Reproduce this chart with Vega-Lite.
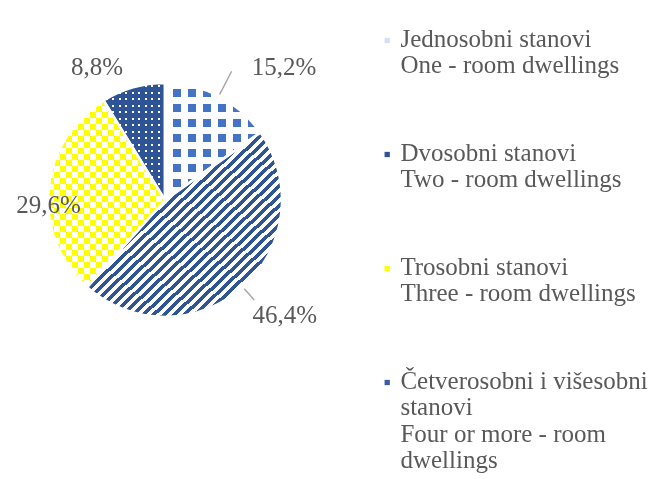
{
"$schema":"https://vega.github.io/schema/vega-lite/v6.json",
"width":330,"height":400,"padding":0,"autosize":{"type":"pad"},"background":"white",
"config":{"view":{"stroke":null}},
"data":{"values":[
{"k":"one","cat":"Jednosobni stanovi|One - room dwellings","pct":15.2,"ord":1,"label":"15,2%"},
{"k":"two","cat":"Dvosobni stanovi|Two - room dwellings","pct":46.4,"ord":2,"label":"46,4%"},
{"k":"three","cat":"Trosobni stanovi|Three - room dwellings","pct":29.6,"ord":3,"label":"29,6%"},
{"k":"four","cat":"Četverosobni i višesobni|stanovi|Four or more - room|dwellings","pct":8.8,"ord":4,"label":"8,8%"}
]},
"encoding":{"theta":{"field":"pct","type":"quantitative","stack":true},"order":{"field":"ord","type":"quantitative"}},
"layer":[
{"mark":{"type":"arc","radius":117,"strokeWidth":0},
 "encoding":{"fill":{"field":"cat","type":"nominal",
  "scale":{"domain":["Jednosobni stanovi|One - room dwellings","Dvosobni stanovi|Two - room dwellings","Trosobni stanovi|Three - room dwellings","Četverosobni i višesobni|stanovi|Four or more - room|dwellings"],"range":["#D5DFF3","#2F5597","#FFFF00","#3A5DA5"]},
  "legend":{"title":null,"orient":"none","legendX":374.7,"legendY":28,"symbolType":"square","symbolSize":28,"symbolStrokeWidth":0,"labelFont":"Liberation Serif","labelFontSize":25,"labelColor":"#595959","labelLimit":400,"labelOffset":0.7,"labelBaseline":"alphabetic","rowPadding":62,"padding":0,"labelExpr":"split(datum.label, '|')","encode":{"labels":{"update":{"lineHeight":{"value":26.5},"dy":{"value":6}}}}},
  "condition":[
   {"test":"datum.k==='one'","value":"#4472C4"},
   {"test":"datum.k==='two'","value":{"gradient":"linear","x1":0,"y1":0,"x2":1,"y2":1,"stops":[
{"offset":0,"color":"#2F5597"},{"offset":0.0132,"color":"#2F5597"},{"offset":0.0132,"color":"#FFFFFF"},{"offset":0.0263,"color":"#FFFFFF"},
{"offset":0.0263,"color":"#2F5597"},{"offset":0.0395,"color":"#2F5597"},{"offset":0.0395,"color":"#FFFFFF"},{"offset":0.0526,"color":"#FFFFFF"},
{"offset":0.0526,"color":"#2F5597"},{"offset":0.0658,"color":"#2F5597"},{"offset":0.0658,"color":"#FFFFFF"},{"offset":0.0789,"color":"#FFFFFF"},
{"offset":0.0789,"color":"#2F5597"},{"offset":0.0921,"color":"#2F5597"},{"offset":0.0921,"color":"#FFFFFF"},{"offset":0.1053,"color":"#FFFFFF"},
{"offset":0.1053,"color":"#2F5597"},{"offset":0.1184,"color":"#2F5597"},{"offset":0.1184,"color":"#FFFFFF"},{"offset":0.1316,"color":"#FFFFFF"},
{"offset":0.1316,"color":"#2F5597"},{"offset":0.1447,"color":"#2F5597"},{"offset":0.1447,"color":"#FFFFFF"},{"offset":0.1579,"color":"#FFFFFF"},
{"offset":0.1579,"color":"#2F5597"},{"offset":0.1711,"color":"#2F5597"},{"offset":0.1711,"color":"#FFFFFF"},{"offset":0.1842,"color":"#FFFFFF"},
{"offset":0.1842,"color":"#2F5597"},{"offset":0.1974,"color":"#2F5597"},{"offset":0.1974,"color":"#FFFFFF"},{"offset":0.2105,"color":"#FFFFFF"},
{"offset":0.2105,"color":"#2F5597"},{"offset":0.2237,"color":"#2F5597"},{"offset":0.2237,"color":"#FFFFFF"},{"offset":0.2368,"color":"#FFFFFF"},
{"offset":0.2368,"color":"#2F5597"},{"offset":0.25,"color":"#2F5597"},{"offset":0.25,"color":"#FFFFFF"},{"offset":0.2632,"color":"#FFFFFF"},
{"offset":0.2632,"color":"#2F5597"},{"offset":0.2763,"color":"#2F5597"},{"offset":0.2763,"color":"#FFFFFF"},{"offset":0.2895,"color":"#FFFFFF"},
{"offset":0.2895,"color":"#2F5597"},{"offset":0.3026,"color":"#2F5597"},{"offset":0.3026,"color":"#FFFFFF"},{"offset":0.3158,"color":"#FFFFFF"},
{"offset":0.3158,"color":"#2F5597"},{"offset":0.3289,"color":"#2F5597"},{"offset":0.3289,"color":"#FFFFFF"},{"offset":0.3421,"color":"#FFFFFF"},
{"offset":0.3421,"color":"#2F5597"},{"offset":0.3553,"color":"#2F5597"},{"offset":0.3553,"color":"#FFFFFF"},{"offset":0.3684,"color":"#FFFFFF"},
{"offset":0.3684,"color":"#2F5597"},{"offset":0.3816,"color":"#2F5597"},{"offset":0.3816,"color":"#FFFFFF"},{"offset":0.3947,"color":"#FFFFFF"},
{"offset":0.3947,"color":"#2F5597"},{"offset":0.4079,"color":"#2F5597"},{"offset":0.4079,"color":"#FFFFFF"},{"offset":0.4211,"color":"#FFFFFF"},
{"offset":0.4211,"color":"#2F5597"},{"offset":0.4342,"color":"#2F5597"},{"offset":0.4342,"color":"#FFFFFF"},{"offset":0.4474,"color":"#FFFFFF"},
{"offset":0.4474,"color":"#2F5597"},{"offset":0.4605,"color":"#2F5597"},{"offset":0.4605,"color":"#FFFFFF"},{"offset":0.4737,"color":"#FFFFFF"},
{"offset":0.4737,"color":"#2F5597"},{"offset":0.4868,"color":"#2F5597"},{"offset":0.4868,"color":"#FFFFFF"},{"offset":0.5,"color":"#FFFFFF"},
{"offset":0.5,"color":"#2F5597"},{"offset":0.5132,"color":"#2F5597"},{"offset":0.5132,"color":"#FFFFFF"},{"offset":0.5263,"color":"#FFFFFF"},
{"offset":0.5263,"color":"#2F5597"},{"offset":0.5395,"color":"#2F5597"},{"offset":0.5395,"color":"#FFFFFF"},{"offset":0.5526,"color":"#FFFFFF"},
{"offset":0.5526,"color":"#2F5597"},{"offset":0.5658,"color":"#2F5597"},{"offset":0.5658,"color":"#FFFFFF"},{"offset":0.5789,"color":"#FFFFFF"},
{"offset":0.5789,"color":"#2F5597"},{"offset":0.5921,"color":"#2F5597"},{"offset":0.5921,"color":"#FFFFFF"},{"offset":0.6053,"color":"#FFFFFF"},
{"offset":0.6053,"color":"#2F5597"},{"offset":0.6184,"color":"#2F5597"},{"offset":0.6184,"color":"#FFFFFF"},{"offset":0.6316,"color":"#FFFFFF"},
{"offset":0.6316,"color":"#2F5597"},{"offset":0.6447,"color":"#2F5597"},{"offset":0.6447,"color":"#FFFFFF"},{"offset":0.6579,"color":"#FFFFFF"},
{"offset":0.6579,"color":"#2F5597"},{"offset":0.6711,"color":"#2F5597"},{"offset":0.6711,"color":"#FFFFFF"},{"offset":0.6842,"color":"#FFFFFF"},
{"offset":0.6842,"color":"#2F5597"},{"offset":0.6974,"color":"#2F5597"},{"offset":0.6974,"color":"#FFFFFF"},{"offset":0.7105,"color":"#FFFFFF"},
{"offset":0.7105,"color":"#2F5597"},{"offset":0.7237,"color":"#2F5597"},{"offset":0.7237,"color":"#FFFFFF"},{"offset":0.7368,"color":"#FFFFFF"},
{"offset":0.7368,"color":"#2F5597"},{"offset":0.75,"color":"#2F5597"},{"offset":0.75,"color":"#FFFFFF"},{"offset":0.7632,"color":"#FFFFFF"},
{"offset":0.7632,"color":"#2F5597"},{"offset":0.7763,"color":"#2F5597"},{"offset":0.7763,"color":"#FFFFFF"},{"offset":0.7895,"color":"#FFFFFF"},
{"offset":0.7895,"color":"#2F5597"},{"offset":0.8026,"color":"#2F5597"},{"offset":0.8026,"color":"#FFFFFF"},{"offset":0.8158,"color":"#FFFFFF"},
{"offset":0.8158,"color":"#2F5597"},{"offset":0.8289,"color":"#2F5597"},{"offset":0.8289,"color":"#FFFFFF"},{"offset":0.8421,"color":"#FFFFFF"},
{"offset":0.8421,"color":"#2F5597"},{"offset":0.8553,"color":"#2F5597"},{"offset":0.8553,"color":"#FFFFFF"},{"offset":0.8684,"color":"#FFFFFF"},
{"offset":0.8684,"color":"#2F5597"},{"offset":0.8816,"color":"#2F5597"},{"offset":0.8816,"color":"#FFFFFF"},{"offset":0.8947,"color":"#FFFFFF"},
{"offset":0.8947,"color":"#2F5597"},{"offset":0.9079,"color":"#2F5597"},{"offset":0.9079,"color":"#FFFFFF"},{"offset":0.9211,"color":"#FFFFFF"},
{"offset":0.9211,"color":"#2F5597"},{"offset":0.9342,"color":"#2F5597"},{"offset":0.9342,"color":"#FFFFFF"},{"offset":0.9474,"color":"#FFFFFF"},
{"offset":0.9474,"color":"#2F5597"},{"offset":0.9605,"color":"#2F5597"},{"offset":0.9605,"color":"#FFFFFF"},{"offset":0.9737,"color":"#FFFFFF"},
{"offset":0.9737,"color":"#2F5597"},{"offset":0.9868,"color":"#2F5597"},{"offset":0.9868,"color":"#FFFFFF"},{"offset":1,"color":"#FFFFFF"}
   ]}},
   {"test":"datum.k==='three'","value":{"gradient":"linear","x1":0,"y1":0,"x2":0,"y2":1,"stops":[
{"offset":0,"color":"#FFFF00"},{"offset":0.0321,"color":"#FFFF00"},{"offset":0.0321,"color":"#FFFFFF"},{"offset":0.0642,"color":"#FFFFFF"},
{"offset":0.0642,"color":"#FFFF00"},{"offset":0.0963,"color":"#FFFF00"},{"offset":0.0963,"color":"#FFFFFF"},{"offset":0.1283,"color":"#FFFFFF"},
{"offset":0.1283,"color":"#FFFF00"},{"offset":0.1604,"color":"#FFFF00"},{"offset":0.1604,"color":"#FFFFFF"},{"offset":0.1925,"color":"#FFFFFF"},
{"offset":0.1925,"color":"#FFFF00"},{"offset":0.2246,"color":"#FFFF00"},{"offset":0.2246,"color":"#FFFFFF"},{"offset":0.2567,"color":"#FFFFFF"},
{"offset":0.2567,"color":"#FFFF00"},{"offset":0.2888,"color":"#FFFF00"},{"offset":0.2888,"color":"#FFFFFF"},{"offset":0.3209,"color":"#FFFFFF"},
{"offset":0.3209,"color":"#FFFF00"},{"offset":0.3529,"color":"#FFFF00"},{"offset":0.3529,"color":"#FFFFFF"},{"offset":0.385,"color":"#FFFFFF"},
{"offset":0.385,"color":"#FFFF00"},{"offset":0.4171,"color":"#FFFF00"},{"offset":0.4171,"color":"#FFFFFF"},{"offset":0.4492,"color":"#FFFFFF"},
{"offset":0.4492,"color":"#FFFF00"},{"offset":0.4813,"color":"#FFFF00"},{"offset":0.4813,"color":"#FFFFFF"},{"offset":0.5134,"color":"#FFFFFF"},
{"offset":0.5134,"color":"#FFFF00"},{"offset":0.5455,"color":"#FFFF00"},{"offset":0.5455,"color":"#FFFFFF"},{"offset":0.5775,"color":"#FFFFFF"},
{"offset":0.5775,"color":"#FFFF00"},{"offset":0.6096,"color":"#FFFF00"},{"offset":0.6096,"color":"#FFFFFF"},{"offset":0.6417,"color":"#FFFFFF"},
{"offset":0.6417,"color":"#FFFF00"},{"offset":0.6738,"color":"#FFFF00"},{"offset":0.6738,"color":"#FFFFFF"},{"offset":0.7059,"color":"#FFFFFF"},
{"offset":0.7059,"color":"#FFFF00"},{"offset":0.738,"color":"#FFFF00"},{"offset":0.738,"color":"#FFFFFF"},{"offset":0.7701,"color":"#FFFFFF"},
{"offset":0.7701,"color":"#FFFF00"},{"offset":0.8021,"color":"#FFFF00"},{"offset":0.8021,"color":"#FFFFFF"},{"offset":0.8342,"color":"#FFFFFF"},
{"offset":0.8342,"color":"#FFFF00"},{"offset":0.8663,"color":"#FFFF00"},{"offset":0.8663,"color":"#FFFFFF"},{"offset":0.8984,"color":"#FFFFFF"},
{"offset":0.8984,"color":"#FFFF00"},{"offset":0.9305,"color":"#FFFF00"},{"offset":0.9305,"color":"#FFFFFF"},{"offset":0.9626,"color":"#FFFFFF"},
{"offset":0.9626,"color":"#FFFF00"},{"offset":0.9947,"color":"#FFFF00"},{"offset":0.9947,"color":"#FFFFFF"},{"offset":1,"color":"#FFFFFF"}
   ]}},
   {"test":"datum.k==='four'","value":{"gradient":"linear","x1":0,"y1":0,"x2":0,"y2":1,"stops":[
{"offset":0,"color":"#2F5496"},
{"offset":0.0193,"color":"#2F5496"},{"offset":0.0193,"color":"#FFFFFF"},{"offset":0.0364,"color":"#FFFFFF"},{"offset":0.0364,"color":"#2F5496"},
{"offset":0.0749,"color":"#2F5496"},{"offset":0.0749,"color":"#FFFFFF"},{"offset":0.092,"color":"#FFFFFF"},{"offset":0.092,"color":"#2F5496"},
{"offset":0.1304,"color":"#2F5496"},{"offset":0.1304,"color":"#FFFFFF"},{"offset":0.1475,"color":"#FFFFFF"},{"offset":0.1475,"color":"#2F5496"},
{"offset":0.186,"color":"#2F5496"},{"offset":0.186,"color":"#FFFFFF"},{"offset":0.2031,"color":"#FFFFFF"},{"offset":0.2031,"color":"#2F5496"},
{"offset":0.2415,"color":"#2F5496"},{"offset":0.2415,"color":"#FFFFFF"},{"offset":0.2586,"color":"#FFFFFF"},{"offset":0.2586,"color":"#2F5496"},
{"offset":0.2971,"color":"#2F5496"},{"offset":0.2971,"color":"#FFFFFF"},{"offset":0.3142,"color":"#FFFFFF"},{"offset":0.3142,"color":"#2F5496"},
{"offset":0.3526,"color":"#2F5496"},{"offset":0.3526,"color":"#FFFFFF"},{"offset":0.3697,"color":"#FFFFFF"},{"offset":0.3697,"color":"#2F5496"},
{"offset":0.4082,"color":"#2F5496"},{"offset":0.4082,"color":"#FFFFFF"},{"offset":0.4253,"color":"#FFFFFF"},{"offset":0.4253,"color":"#2F5496"},
{"offset":0.4637,"color":"#2F5496"},{"offset":0.4637,"color":"#FFFFFF"},{"offset":0.4808,"color":"#FFFFFF"},{"offset":0.4808,"color":"#2F5496"},
{"offset":0.5193,"color":"#2F5496"},{"offset":0.5193,"color":"#FFFFFF"},{"offset":0.5364,"color":"#FFFFFF"},{"offset":0.5364,"color":"#2F5496"},
{"offset":0.5749,"color":"#2F5496"},{"offset":0.5749,"color":"#FFFFFF"},{"offset":0.592,"color":"#FFFFFF"},{"offset":0.592,"color":"#2F5496"},
{"offset":0.6304,"color":"#2F5496"},{"offset":0.6304,"color":"#FFFFFF"},{"offset":0.6475,"color":"#FFFFFF"},{"offset":0.6475,"color":"#2F5496"},
{"offset":0.686,"color":"#2F5496"},{"offset":0.686,"color":"#FFFFFF"},{"offset":0.7031,"color":"#FFFFFF"},{"offset":0.7031,"color":"#2F5496"},
{"offset":0.7415,"color":"#2F5496"},{"offset":0.7415,"color":"#FFFFFF"},{"offset":0.7586,"color":"#FFFFFF"},{"offset":0.7586,"color":"#2F5496"},
{"offset":0.7971,"color":"#2F5496"},{"offset":0.7971,"color":"#FFFFFF"},{"offset":0.8142,"color":"#FFFFFF"},{"offset":0.8142,"color":"#2F5496"},
{"offset":0.8526,"color":"#2F5496"},{"offset":0.8526,"color":"#FFFFFF"},{"offset":0.8697,"color":"#FFFFFF"},{"offset":0.8697,"color":"#2F5496"},
{"offset":0.9082,"color":"#2F5496"},{"offset":0.9082,"color":"#FFFFFF"},{"offset":0.9253,"color":"#FFFFFF"},{"offset":0.9253,"color":"#2F5496"},
{"offset":0.9637,"color":"#2F5496"},{"offset":0.9637,"color":"#FFFFFF"},{"offset":0.9808,"color":"#FFFFFF"},{"offset":0.9808,"color":"#2F5496"},
{"offset":1,"color":"#2F5496"}
   ]}}
  ]}}},
{"mark":{"type":"arc","radius":117,"strokeWidth":0,"blend":"difference"},
 "encoding":{"fill":{"condition":{"test":"datum.k==='three'","value":{"gradient":"linear","x1":0,"y1":0,"x2":1,"y2":0,"stops":[
{"offset":0,"color":"#0000FF"},{"offset":0.0513,"color":"#0000FF"},{"offset":0.0513,"color":"rgba(0,0,255,0)"},{"offset":0.1026,"color":"rgba(0,0,255,0)"},
{"offset":0.1026,"color":"#0000FF"},{"offset":0.1538,"color":"#0000FF"},{"offset":0.1538,"color":"rgba(0,0,255,0)"},{"offset":0.2051,"color":"rgba(0,0,255,0)"},
{"offset":0.2051,"color":"#0000FF"},{"offset":0.2564,"color":"#0000FF"},{"offset":0.2564,"color":"rgba(0,0,255,0)"},{"offset":0.3077,"color":"rgba(0,0,255,0)"},
{"offset":0.3077,"color":"#0000FF"},{"offset":0.359,"color":"#0000FF"},{"offset":0.359,"color":"rgba(0,0,255,0)"},{"offset":0.4103,"color":"rgba(0,0,255,0)"},
{"offset":0.4103,"color":"#0000FF"},{"offset":0.4615,"color":"#0000FF"},{"offset":0.4615,"color":"rgba(0,0,255,0)"},{"offset":0.5128,"color":"rgba(0,0,255,0)"},
{"offset":0.5128,"color":"#0000FF"},{"offset":0.5641,"color":"#0000FF"},{"offset":0.5641,"color":"rgba(0,0,255,0)"},{"offset":0.6154,"color":"rgba(0,0,255,0)"},
{"offset":0.6154,"color":"#0000FF"},{"offset":0.6667,"color":"#0000FF"},{"offset":0.6667,"color":"rgba(0,0,255,0)"},{"offset":0.7179,"color":"rgba(0,0,255,0)"},
{"offset":0.7179,"color":"#0000FF"},{"offset":0.7692,"color":"#0000FF"},{"offset":0.7692,"color":"rgba(0,0,255,0)"},{"offset":0.8205,"color":"rgba(0,0,255,0)"},
{"offset":0.8205,"color":"#0000FF"},{"offset":0.8718,"color":"#0000FF"},{"offset":0.8718,"color":"rgba(0,0,255,0)"},{"offset":0.9231,"color":"rgba(0,0,255,0)"},
{"offset":0.9231,"color":"#0000FF"},{"offset":0.9744,"color":"#0000FF"},{"offset":0.9744,"color":"rgba(0,0,255,0)"},{"offset":1,"color":"rgba(0,0,255,0)"}
 ]}},"value":"transparent"}}},
{"mark":{"type":"arc","radius":117,"strokeWidth":0},
 "encoding":{"fill":{"condition":[
  {"test":"datum.k==='one'","value":{"gradient":"linear","x1":0,"y1":0,"x2":0,"y2":1,"stops":[
{"offset":0,"color":"#FFFFFF"},{"offset":0.0513,"color":"#FFFFFF"},{"offset":0.0513,"color":"rgba(255,255,255,0)"},{"offset":0.1197,"color":"rgba(255,255,255,0)"},
{"offset":0.1197,"color":"#FFFFFF"},{"offset":0.1795,"color":"#FFFFFF"},{"offset":0.1795,"color":"rgba(255,255,255,0)"},{"offset":0.2479,"color":"rgba(255,255,255,0)"},
{"offset":0.2479,"color":"#FFFFFF"},{"offset":0.3077,"color":"#FFFFFF"},{"offset":0.3077,"color":"rgba(255,255,255,0)"},{"offset":0.3761,"color":"rgba(255,255,255,0)"},
{"offset":0.3761,"color":"#FFFFFF"},{"offset":0.4359,"color":"#FFFFFF"},{"offset":0.4359,"color":"rgba(255,255,255,0)"},{"offset":0.5043,"color":"rgba(255,255,255,0)"},
{"offset":0.5043,"color":"#FFFFFF"},{"offset":0.5641,"color":"#FFFFFF"},{"offset":0.5641,"color":"rgba(255,255,255,0)"},{"offset":0.6325,"color":"rgba(255,255,255,0)"},
{"offset":0.6325,"color":"#FFFFFF"},{"offset":0.6923,"color":"#FFFFFF"},{"offset":0.6923,"color":"rgba(255,255,255,0)"},{"offset":0.7607,"color":"rgba(255,255,255,0)"},
{"offset":0.7607,"color":"#FFFFFF"},{"offset":0.8205,"color":"#FFFFFF"},{"offset":0.8205,"color":"rgba(255,255,255,0)"},{"offset":0.8889,"color":"rgba(255,255,255,0)"},
{"offset":0.8889,"color":"#FFFFFF"},{"offset":0.9487,"color":"#FFFFFF"},{"offset":0.9487,"color":"rgba(255,255,255,0)"},{"offset":1,"color":"rgba(255,255,255,0)"}
  ]}},
  {"test":"datum.k==='four'","value":{"gradient":"linear","x1":0,"y1":0,"x2":1,"y2":0,"stops":[
{"offset":0,"color":"#2F5496"},
{"offset":0.0366,"color":"#2F5496"},{"offset":0.0366,"color":"rgba(47,84,150,0)"},{"offset":0.0691,"color":"rgba(47,84,150,0)"},{"offset":0.0691,"color":"#2F5496"},
{"offset":0.1423,"color":"#2F5496"},{"offset":0.1423,"color":"rgba(47,84,150,0)"},{"offset":0.1748,"color":"rgba(47,84,150,0)"},{"offset":0.1748,"color":"#2F5496"},
{"offset":0.248,"color":"#2F5496"},{"offset":0.248,"color":"rgba(47,84,150,0)"},{"offset":0.2805,"color":"rgba(47,84,150,0)"},{"offset":0.2805,"color":"#2F5496"},
{"offset":0.3537,"color":"#2F5496"},{"offset":0.3537,"color":"rgba(47,84,150,0)"},{"offset":0.3862,"color":"rgba(47,84,150,0)"},{"offset":0.3862,"color":"#2F5496"},
{"offset":0.4594,"color":"#2F5496"},{"offset":0.4594,"color":"rgba(47,84,150,0)"},{"offset":0.4919,"color":"rgba(47,84,150,0)"},{"offset":0.4919,"color":"#2F5496"},
{"offset":0.5651,"color":"#2F5496"},{"offset":0.5651,"color":"rgba(47,84,150,0)"},{"offset":0.5976,"color":"rgba(47,84,150,0)"},{"offset":0.5976,"color":"#2F5496"},
{"offset":0.6708,"color":"#2F5496"},{"offset":0.6708,"color":"rgba(47,84,150,0)"},{"offset":0.7033,"color":"rgba(47,84,150,0)"},{"offset":0.7033,"color":"#2F5496"},
{"offset":0.7765,"color":"#2F5496"},{"offset":0.7765,"color":"rgba(47,84,150,0)"},{"offset":0.809,"color":"rgba(47,84,150,0)"},{"offset":0.809,"color":"#2F5496"},
{"offset":0.8822,"color":"#2F5496"},{"offset":0.8822,"color":"rgba(47,84,150,0)"},{"offset":0.9147,"color":"rgba(47,84,150,0)"},{"offset":0.9147,"color":"#2F5496"},
{"offset":1,"color":"#2F5496"}
  ]}}
 ],"value":"transparent"}}},
{"mark":{"type":"arc","radius":117,"strokeWidth":0},
 "encoding":{"fill":{"condition":{"test":"datum.k==='one'","value":{"gradient":"linear","x1":0,"y1":0,"x2":1,"y2":0,"stops":[
{"offset":0,"color":"#FFFFFF"},{"offset":0.0838,"color":"#FFFFFF"},{"offset":0.0838,"color":"rgba(255,255,255,0)"},{"offset":0.1675,"color":"rgba(255,255,255,0)"},
{"offset":0.1675,"color":"#FFFFFF"},{"offset":0.2408,"color":"#FFFFFF"},{"offset":0.2408,"color":"rgba(255,255,255,0)"},{"offset":0.3246,"color":"rgba(255,255,255,0)"},
{"offset":0.3246,"color":"#FFFFFF"},{"offset":0.3979,"color":"#FFFFFF"},{"offset":0.3979,"color":"rgba(255,255,255,0)"},{"offset":0.4817,"color":"rgba(255,255,255,0)"},
{"offset":0.4817,"color":"#FFFFFF"},{"offset":0.555,"color":"#FFFFFF"},{"offset":0.555,"color":"rgba(255,255,255,0)"},{"offset":0.6387,"color":"rgba(255,255,255,0)"},
{"offset":0.6387,"color":"#FFFFFF"},{"offset":0.712,"color":"#FFFFFF"},{"offset":0.712,"color":"rgba(255,255,255,0)"},{"offset":0.7958,"color":"rgba(255,255,255,0)"},
{"offset":0.7958,"color":"#FFFFFF"},{"offset":0.8691,"color":"#FFFFFF"},{"offset":0.8691,"color":"rgba(255,255,255,0)"},{"offset":0.9529,"color":"rgba(255,255,255,0)"},
{"offset":0.9529,"color":"#FFFFFF"},{"offset":1,"color":"#FFFFFF"}
 ]}},"value":"transparent"}}},
{"mark":{"type":"arc","radius":117,"fill":"transparent","stroke":"#FFFFFF","strokeWidth":2.5}},
{"mark":{"type":"arc","radius":145,"radius2":119,"padAngle":3,"fill":"transparent","strokeWidth":1.4},
 "encoding":{"stroke":{"condition":{"test":"datum.k==='one'","value":"#A6A6A6"},"value":"transparent"}}},
{"mark":{"type":"arc","radius":134,"radius2":119,"padAngle":3,"fill":"transparent","strokeWidth":1.4},
 "encoding":{"stroke":{"condition":{"test":"datum.k==='two'","value":"#A6A6A6"},"value":"transparent"}}},
{"mark":{"type":"text","radius":150,"dx":50,"dy":8,"font":"Liberation Serif","fontSize":25,"color":"#595959","align":"center","baseline":"alphabetic"},
 "encoding":{"text":{"condition":{"test":"datum.k==='one'","field":"label"},"value":""}}},
{"mark":{"type":"text","radius":150,"dx":20,"dy":11,"font":"Liberation Serif","fontSize":25,"color":"#595959","align":"center","baseline":"alphabetic"},
 "encoding":{"text":{"condition":{"test":"datum.k==='two'","field":"label"},"value":""}}},
{"mark":{"type":"text","radius":150,"dx":33,"dy":26,"font":"Liberation Serif","fontSize":25,"color":"#595959","align":"center","baseline":"alphabetic"},
 "encoding":{"text":{"condition":{"test":"datum.k==='three'","field":"label"},"value":""}}},
{"mark":{"type":"text","radius":130,"dx":-32.5,"dy":0,"font":"Liberation Serif","fontSize":25,"color":"#595959","align":"center","baseline":"alphabetic"},
 "encoding":{"text":{"condition":{"test":"datum.k==='four'","field":"label"},"value":""}}}
]
}
